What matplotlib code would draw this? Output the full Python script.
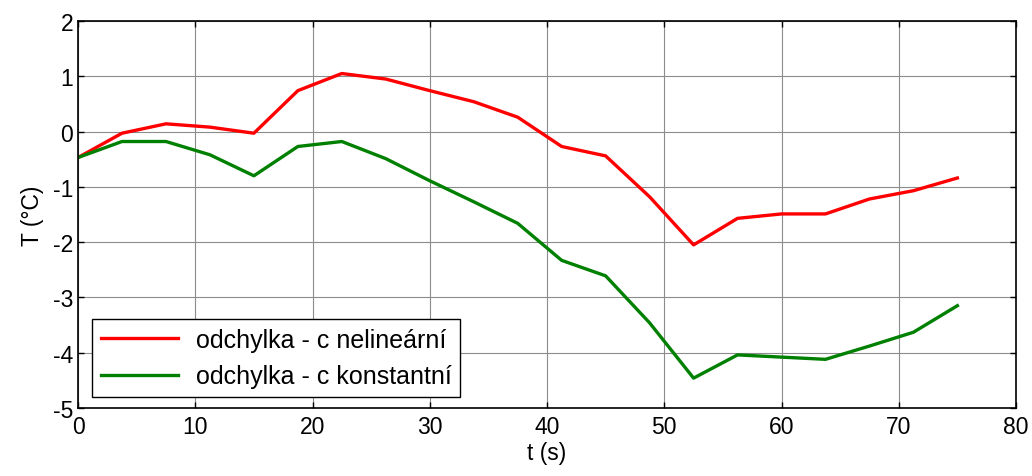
import matplotlib
matplotlib.use('Agg')
from matplotlib import pyplot as plt
import numpy as np

# time samples (s)
t = [0, 3.75, 7.5, 11.25, 15, 18.75, 22.5, 26.25, 30, 33.75, 37.5,
     41.25, 45, 48.75, 52.5, 56.25, 60, 63.75, 67.5, 71.25, 75]

# deviation - nonlinear c
odch_nelin = [-0.47, -0.03, 0.14, 0.08, -0.03, 0.74, 1.05, 0.95, 0.74, 0.54, 0.26,
              -0.27, -0.44, -1.18, -2.05, -1.57, -1.49, -1.49, -1.22, -1.07, -0.84]

# deviation - constant c
odch_konst = [-0.47, -0.18, -0.18, -0.42, -0.80, -0.27, -0.18, -0.49, -0.89, -1.27, -1.66,
              -2.33, -2.61, -3.46, -4.46, -4.04, -4.08, -4.12, -3.88, -3.63, -3.15]

labels = ['odchylka - c nelineární', 'odchylka - c konstantní']

plt.rcParams['font.family'] = ['Liberation Sans', 'DejaVu Sans']
plt.rcParams['axes.unicode_minus'] = False

fig = plt.figure(figsize=(10.32, 4.77), dpi=100)
ax = fig.add_axes([0.0756, 0.1426, 0.9089, 0.8113])

ax.plot(t, odch_nelin, color=(1, 0, 0), lw=2.4, label=labels[0])
ax.plot(t, odch_konst, color=(0, 0.5, 0), lw=2.4, label=labels[1])

ax.set_xlim(0, 80)
ax.set_ylim(-5, 2)
ax.set_xticks(np.arange(0, 81, 10))
ax.set_yticks(np.arange(-5, 3, 1))
ax.grid(True, color='0.55', lw=0.8, linestyle='-')
ax.tick_params(direction='in', top=True, right=True, labelsize=16.5, length=4, width=1)
ax.tick_params(axis='x', pad=5)
for s in ax.spines.values():
    s.set_linewidth(1.2)

ax.set_xlabel('t (s)', fontsize=16.5, labelpad=2)
ax.set_ylabel('T (°C)', fontsize=16.5, labelpad=6)

leg = ax.legend(loc='lower left', bbox_to_anchor=(0.015, 0.028), borderaxespad=0,
                fontsize=18, fancybox=False, framealpha=1, edgecolor='black',
                handlelength=3.1, handletextpad=0.7, borderpad=0.35, labelspacing=0.5)
leg.get_frame().set_linewidth(1.0)

fig.savefig('out.png', dpi=100)
